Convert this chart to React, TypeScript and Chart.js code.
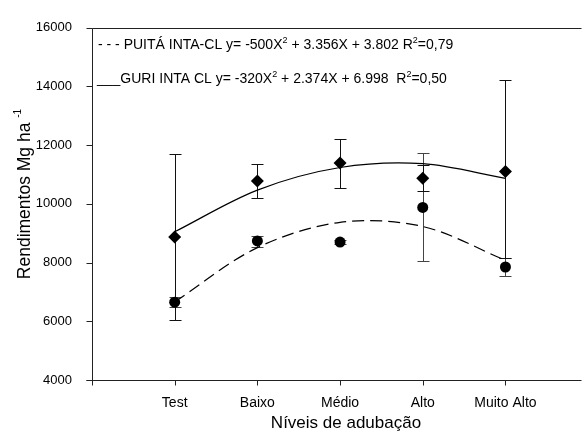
import React, { useEffect, useRef } from "react";
import { Chart, registerables } from "chart.js";

Chart.register(...registerables);

const categories = ["Test", "Baixo", "Médio", "Alto", "Muito Alto"];
const levelX = [1, 2, 3, 4, 5];

const guriMean = [8870, 10780, 11390, 10870, 11100];
const guriLow = [6050, 10210, 10550, 10440, 8150];
const guriHigh = [11690, 11370, 12210, 11330, 14230];

const puitaMean = [6650, 8740, 8700, 9880, 7850];
const puitaLow = [6500, 8540, 8620, 8040, 7550];
const puitaHigh = [6820, 8920, 8780, 11720, 8150];

// fitted regression curves, values read at each level
const guriFit = [9050, 10470, 11240, 11370, 10870];
const puitaFit = [6660, 8510, 9370, 9230, 8080];

const legendLine1 = [
  { t: "- - - PUITÁ INTA-CL y= -500X", sup: false },
  { t: "2", sup: true },
  { t: " + 3.356X + 3.802 R", sup: false },
  { t: "2", sup: true },
  { t: "=0,79", sup: false },
];
const legendLine2 = [
  { t: "___GURI INTA CL y= -320X", sup: false },
  { t: "2", sup: true },
  { t: " + 2.374X + 6.998  R", sup: false },
  { t: "2", sup: true },
  { t: "=0,50", sup: false },
];
const yTitleMain = "Rendimentos Mg ha ";
const yTitleSup = "-1";
const xTitle = "Níveis de adubação";

const FONT = "'Liberation Sans', Arial, sans-serif";

const pts = (xs: number[], ys: number[]) => xs.map((x, i) => ({ x, y: ys[i] }));

const customPlugin = {
  id: "custom",
  beforeDatasetsDraw(chart: any) {
    const { ctx, scales } = chart;
    const xs = scales.x;
    const ys = scales.y;
    const drawBars = (lo: number[], hi: number[], color: string) => {
      ctx.save();
      ctx.strokeStyle = color;
      ctx.lineWidth = 1;
      levelX.forEach((xv, i) => {
        const px = Math.round(xs.getPixelForValue(xv)) + 0.5;
        const y1 = Math.round(ys.getPixelForValue(lo[i])) + 0.5;
        const y2 = Math.round(ys.getPixelForValue(hi[i])) + 0.5;
        ctx.beginPath();
        ctx.moveTo(px, y1);
        ctx.lineTo(px, y2);
        ctx.moveTo(px - 6, y1);
        ctx.lineTo(px + 6, y1);
        ctx.moveTo(px - 6, y2);
        ctx.lineTo(px + 6, y2);
        ctx.stroke();
      });
      ctx.restore();
    };
    drawBars(puitaLow, puitaHigh, "#444");
    drawBars(guriLow, guriHigh, "#111");
  },
  afterDraw(chart: any) {
    const { ctx, chartArea, scales } = chart;
    const { left, right, top, bottom } = chartArea;
    ctx.save();
    ctx.strokeStyle = "#222";
    ctx.lineWidth = 1;
    const L = Math.round(left) + 0.5;
    const T = Math.round(top) + 0.5;
    const B = Math.round(bottom) + 0.5;
    ctx.beginPath();
    ctx.moveTo(L, T);
    ctx.lineTo(right, T);
    ctx.moveTo(L, T);
    ctx.lineTo(L, B + 5);
    ctx.moveTo(L - 6, B);
    ctx.lineTo(right, B);
    scales.y.ticks.forEach((t: any) => {
      const y = Math.round(scales.y.getPixelForValue(t.value)) + 0.5;
      ctx.moveTo(L - 6, y);
      ctx.lineTo(L, y);
    });
    levelX.forEach((v) => {
      const x = Math.round(scales.x.getPixelForValue(v)) + 0.5;
      ctx.moveTo(x, B);
      ctx.lineTo(x, B + 5);
    });
    ctx.stroke();

    const drawLine = (segs: { t: string; sup: boolean }[], x: number, y: number) => {
      let cx = x;
      ctx.fillStyle = "#000";
      ctx.textBaseline = "alphabetic";
      ctx.textAlign = "left";
      segs.forEach((s) => {
        ctx.font = s.sup ? `9px ${FONT}` : `14px ${FONT}`;
        ctx.fillText(s.t, cx, s.sup ? y - 6 : y);
        cx += ctx.measureText(s.t).width;
      });
    };
    drawLine(legendLine1, 98, 49);
    drawLine(legendLine2, 97, 83);

    // x title
    ctx.fillStyle = "#000";
    ctx.font = `17px ${FONT}`;
    ctx.textAlign = "center";
    ctx.textBaseline = "middle";
    ctx.fillText(xTitle, 346, 423);

    // y title
    ctx.save();
    ctx.translate(30, 194);
    ctx.rotate(-Math.PI / 2);
    ctx.font = `17.5px ${FONT}`;
    const wMain = ctx.measureText(yTitleMain).width;
    ctx.font = `10px ${FONT}`;
    const wSup = ctx.measureText(yTitleSup).width;
    const start = -(wMain + wSup) / 2;
    ctx.fillStyle = "#000";
    ctx.textAlign = "left";
    ctx.textBaseline = "alphabetic";
    ctx.font = `17.5px ${FONT}`;
    ctx.fillText(yTitleMain, start, 0);
    ctx.font = `10px ${FONT}`;
    ctx.fillText(yTitleSup, start + wMain, -9);
    ctx.restore();
    ctx.restore();
  },
};

export default function App() {
  const ref = useRef<HTMLCanvasElement | null>(null);
  useEffect(() => {
    if (!ref.current) return;
    const chart = new Chart(ref.current, {
      type: "scatter",
      data: {
        datasets: [
          {
            label: "GURI",
            data: pts(levelX, guriMean),
            pointStyle: "rectRot",
            pointRadius: 6.5,
            backgroundColor: "#000",
            borderColor: "#000",
            borderWidth: 0,
            showLine: false,
          },
          {
            label: "PUITÁ",
            data: pts(levelX, puitaMean),
            pointStyle: "circle",
            pointRadius: 5.5,
            backgroundColor: "#000",
            borderColor: "#000",
            borderWidth: 0,
            showLine: false,
          },
          {
            type: "line",
            label: "GURI fit",
            data: pts(levelX, guriFit),
            borderColor: "#000",
            borderWidth: 1.2,
            pointRadius: 0,
            tension: 0.33,
            fill: false,
          },
          {
            type: "line",
            label: "PUITÁ fit",
            data: pts(levelX, puitaFit),
            borderColor: "#000",
            borderWidth: 1.2,
            borderDash: [12, 6],
            pointRadius: 0,
            tension: 0.33,
            fill: false,
          },
        ] as any,
      },
      options: {
        animation: false,
        responsive: false,
        maintainAspectRatio: false,
        layout: { padding: { top: 18, left: 0, right: 0, bottom: 0 } },
        plugins: { legend: { display: false }, tooltip: { enabled: false } },
        scales: {
          x: {
            type: "linear",
            min: 0,
            max: 5.92,
            grid: { display: false, drawTicks: false },
            border: { display: false },
            afterBuildTicks: (s: any) => {
              s.ticks = levelX.map((v) => ({ value: v }));
            },
            afterFit: (s: any) => {
              s.height = 60;
            },
            ticks: {
              autoSkip: false,
              maxRotation: 0,
              padding: 15,
              color: "#000",
              font: { family: FONT, size: 14 },
              callback: (_v: any, i: number) => categories[i],
            },
            title: { display: false },
          },
          y: {
            min: 4000,
            max: 16000,
            grid: { display: false, drawTicks: false },
            border: { display: false },
            afterFit: (s: any) => {
              s.width = 92;
            },
            ticks: {
              stepSize: 2000,
              padding: 20,
              color: "#000",
              font: { family: FONT, size: 13 },
              callback: (v: any) => String(v),
            },
          },
        },
      } as any,
      plugins: [customPlugin],
    });
    return () => chart.destroy();
  }, []);
  return (
    <div style={{ position: "fixed", left: 0, top: 0, width: 588, height: 440, background: "#fff" }}>
      <canvas ref={ref} width={588} height={440} style={{ display: "block" }} />
    </div>
  );
}
